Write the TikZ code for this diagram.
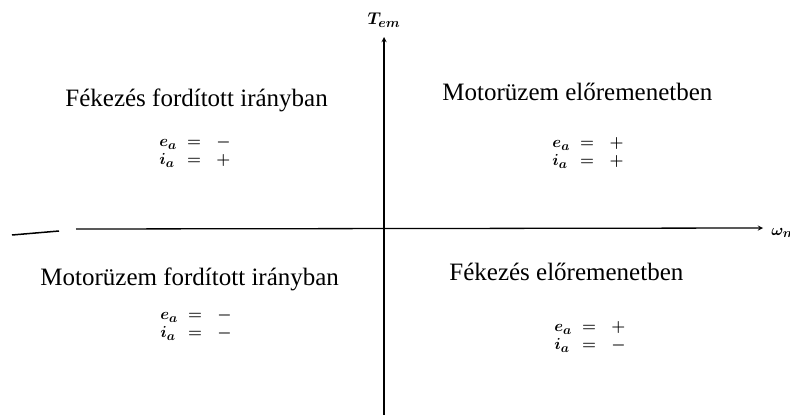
\RequirePackage{fix-cm}
\documentclass[tikz,border=0pt]{standalone}
\usepackage{amsmath}
\usepackage{fontspec}
\setmainfont{Liberation Serif}
\DeclareMathSizes{16}{16}{13}{10}
\DeclareMathSizes{17}{17}{13.5}{10}
\begin{document}
\begin{tikzpicture}[x=1pt, y=-1pt, >=stealth, thick,
    quad/.style={font=\fontsize{25}{27}\selectfont, inner sep=0pt, anchor=base west},
    sign/.style={font=\fontsize{16}{18}\selectfont\boldmath, inner sep=0pt}]
  \useasboundingbox (0,0) rectangle (790,415);

  % tengelyek
  \coordinate (ybot) at (384,415);
  \coordinate (ytop) at (384,37);
  \coordinate (xleft) at (76,229);
  \coordinate (xright) at (763,228);
  \coordinate (s1) at (12,235);
  \coordinate (s2) at (59,231);
  \draw[->, line width=1.3pt] (ybot) -- (ytop);
  \draw[->, line width=1.3pt] (xleft) -- (xright);
  \draw[line width=1.5pt] (s1) -- (s2);
  \node[font=\fontsize{17}{17}\selectfont] (tem) at (384,20) {$\boldsymbol{T_{em}}$};
  \node[anchor=west, inner sep=0pt, font=\fontsize{16}{16}\selectfont] (wm) at (771,233) {$\boldsymbol{\omega_m}$};

  % negyedek
  \node[quad] (q2) at (65,106) {Fékezés fordított irányban};
  \node[quad] (q1) at (442,100) {Motorüzem előremenetben};
  \node[quad] (q3) at (40,285) {Motorüzem fordított irányban};
  \node[quad] (q4) at (449,280) {Fékezés előremenetben};

  % előjelek
  \node[sign] (s2q) at (195,152) {$\begin{array}{@{}l@{\;\;=\;\;\;}l@{}} e_a & -\\ i_a & +\end{array}$};
  \node[sign] (s1q) at (588,153) {$\begin{array}{@{}l@{\;\;=\;\;\;}l@{}} e_a & +\\ i_a & +\end{array}$};
  \node[sign] (s3q) at (196,325) {$\begin{array}{@{}l@{\;\;=\;\;\;}l@{}} e_a & -\\ i_a & -\end{array}$};
  \node[sign] (s4q) at (590,337) {$\begin{array}{@{}l@{\;\;=\;\;\;}l@{}} e_a & +\\ i_a & -\end{array}$};
\end{tikzpicture}
\end{document}
